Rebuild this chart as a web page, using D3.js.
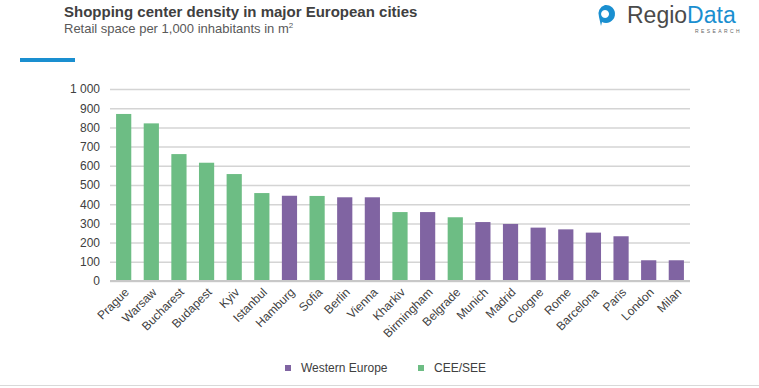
<!DOCTYPE html>
<html>
<head>
<meta charset="utf-8">
<script src="https://cdn.jsdelivr.net/npm/d3@7"></script>
<style>
  body { margin: 0; background: #fff; }
  svg { display: block; font-family: "Liberation Sans", Arial, sans-serif; }
</style>
</head>
<body>
<div id="chart"></div>
<script>
var cities = ["Prague", "Warsaw", "Bucharest", "Budapest", "Kyiv", "Istanbul", "Hamburg", "Sofia",
  "Berlin", "Vienna", "Kharkiv", "Birmingham", "Belgrade", "Munich", "Madrid", "Cologne",
  "Rome", "Barcelona", "Paris", "London", "Milan"];
var values = [870, 821, 661, 616, 557, 458, 444, 443, 436, 436, 359, 359, 332, 307, 297, 278,
  269, 252, 233, 108, 108];
var regions = ["CEE/SEE", "CEE/SEE", "CEE/SEE", "CEE/SEE", "CEE/SEE", "CEE/SEE", "Western Europe", "CEE/SEE",
  "Western Europe", "Western Europe", "CEE/SEE", "Western Europe", "CEE/SEE", "Western Europe", "Western Europe", "Western Europe",
  "Western Europe", "Western Europe", "Western Europe", "Western Europe", "Western Europe"];
var legendItems = ["Western Europe", "CEE/SEE"];
var yTicks = [0, 100, 200, 300, 400, 500, 600, 700, 800, 900, 1000];

var data = cities.map(function(c, i) { return {city: c, value: values[i], region: regions[i]}; });

var W = 759, H = 388;
var margin = {left: 110, top: 89, right: 69, bottom: 107};
var width = W - margin.left - margin.right,
    height = H - margin.top - margin.bottom;

var svg = d3.select("#chart").append("svg")
    .attr("width", W)
    .attr("height", H);

// header
svg.append("text")
    .attr("x", 64).attr("y", 17)
    .attr("font-size", 15).attr("font-weight", "bold").attr("fill", "#404040")
    .text("Shopping center density in major European cities");
var sub = svg.append("text")
    .attr("x", 64).attr("y", 33)
    .attr("font-size", 13).attr("fill", "#595959")
    .text("Retail space per 1,000 inhabitants in m");
sub.append("tspan").attr("font-size", 8).attr("dy", -5).text("2");

svg.append("rect")
    .attr("x", 20).attr("y", 58).attr("width", 55).attr("height", 4)
    .attr("fill", "#1a8fd0");

// logo
var logo = svg.append("g").attr("transform", "translate(605,14)");
logo.append("path")
    .attr("d", "M0,-9 A9,9 0 1 1 -3,8 L-4,12 L-6,3 A9,9 0 0 1 0,-9 Z M0,-4 A4,4 0 1 0 0.1,-4 Z")
    .attr("fill", "#1a8fd0").attr("fill-rule", "evenodd");
var lt = svg.append("text")
    .attr("x", 627).attr("y", 23)
    .attr("font-family", "'Liberation Sans', Arial, sans-serif")
    .attr("font-size", 23);
lt.append("tspan").attr("fill", "#4a4a4a").text("Regio");
lt.append("tspan").attr("fill", "#1a8fd0").text("Data");
svg.append("text")
    .attr("x", 742).attr("y", 33)
    .attr("text-anchor", "end")
    .attr("font-size", 5).attr("letter-spacing", 2.4).attr("fill", "#666")
    .text("RESEARCH");

var g = svg.append("g")
    .attr("transform", "translate(" + margin.left + "," + margin.top + ")");

var x = d3.scaleBand().domain(cities).range([0, width]).paddingInner(0.45).paddingOuter(0.22);
var y = d3.scaleLinear().domain([0, 1000]).range([height, 0]);

var colours = d3.scaleOrdinal()
    .domain(legendItems)
    .range(["#8064a2", "#6dbd84"]);

// grid + y axis
var yAxis = g.append("g")
    .call(d3.axisLeft(y).tickValues(yTicks).tickSize(-width).tickPadding(10)
      .tickFormat(function(d) { return d >= 1000 ? d3.format(",")(d).replace(",", " ") : d; }));
yAxis.select(".domain").remove();
yAxis.selectAll(".tick line").attr("stroke", "#d4d4d4").attr("stroke-width", 1.5);
yAxis.selectAll(".tick text").attr("font-size", 12).attr("fill", "#404040")
    .attr("font-family", "'Liberation Sans', Arial, sans-serif");

g.selectAll(".bar")
    .data(data)
  .enter().append("rect")
    .attr("class", "bar")
    .attr("x", function(d) { return x(d.city); })
    .attr("y", function(d) { return y(d.value); })
    .attr("width", x.bandwidth())
    .attr("height", function(d) { return height - y(d.value); })
    .attr("fill", function(d) { return colours(d.region); });

g.append("line")
    .attr("x1", 0).attr("x2", width)
    .attr("y1", height).attr("y2", height)
    .attr("stroke", "#c8c8c8").attr("stroke-width", 2);

// x labels
var xAxis = g.append("g")
    .attr("transform", "translate(0," + height + ")")
    .call(d3.axisBottom(x).tickSize(0).tickPadding(0));
xAxis.select(".domain").remove();
xAxis.selectAll(".tick text")
    .attr("font-size", 12).attr("fill", "#404040")
    .attr("font-family", "'Liberation Sans', Arial, sans-serif")
    .attr("text-anchor", "end")
    .attr("dy", 0)
    .attr("transform", "translate(6,12) rotate(-45)");

// legend
var legend = svg.append("g");
var lx = [285, 418];
legendItems.forEach(function(k, i) {
  legend.append("rect")
      .attr("x", lx[i]).attr("y", 365).attr("width", 6).attr("height", 6)
      .attr("fill", colours(k));
  legend.append("text")
      .attr("x", lx[i] + 16).attr("y", 372)
      .attr("font-size", 12).attr("fill", "#404040")
      .text(k);
});

svg.append("line")
    .attr("x1", 0).attr("x2", W)
    .attr("y1", 385.5).attr("y2", 385.5)
    .attr("stroke", "#d9d9d9").attr("stroke-width", 1);
</script>
</body>
</html>
